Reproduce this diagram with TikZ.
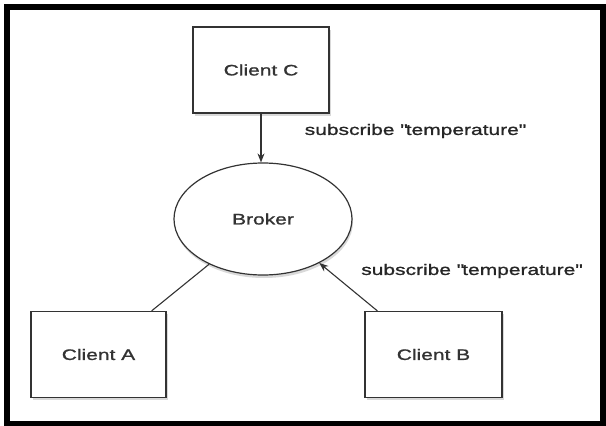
\documentclass[tikz,border=0pt]{standalone}
\usepackage{fontspec}
\setmainfont{Liberation Sans}[FakeStretch=1.38, FakeBold=1.2]
\usetikzlibrary{arrows.meta, shapes.geometric, shadows}

\tikzset{
  client/.style={draw=black!80, line width=1.2pt, fill=white, minimum width=136pt, minimum height=86pt,
    drop shadow={shadow xshift=1.5pt, shadow yshift=-2.5pt, opacity=0.3}},
  broker/.style={ellipse, draw=black!80, line width=1.2pt, fill=white, minimum width=178pt, minimum height=112pt,
    drop shadow={shadow xshift=1pt, shadow yshift=-3pt, opacity=0.3}},
  msg/.style={text=black!85},
  link/.style={draw=black!80, line width=1.1pt},
}

\begin{document}
\begin{tikzpicture}[x=1pt, y=-1pt, font=\fontsize{15.2}{18}\selectfont, text=black!80,
    >={Stealth[length=9pt, width=7pt]}]
  \useasboundingbox (0,0) rectangle (606,426);
  % frame
  \draw[line width=6pt] (6.5,6.5) rectangle (602.5,423.5);

  \node[client] (clientC) at (261, 70) {Client C};
  \node[broker] (broker) at (263, 219) {Broker};
  \node[client, minimum width=135pt] (clientA) at (98.5, 354.5) {Client A};
  \node[client, minimum width=137pt] (clientB) at (433.5, 354.5) {Client B};

  \node[msg] (subC) at (414.5, 131) {subscribe \textquotedbl temperature\textquotedbl};
  \node[msg] (subB) at (471, 271) {subscribe \textquotedbl temperature\textquotedbl};

  \draw[link, ->] (clientC.south) -- (clientC.south |- broker.north);
  \draw[link] ([xshift=-15pt]clientA.north east) -- (broker.220);
  \draw[link, ->] ([xshift=13pt]clientB.north west) -- (broker.322);
\end{tikzpicture}
\end{document}
